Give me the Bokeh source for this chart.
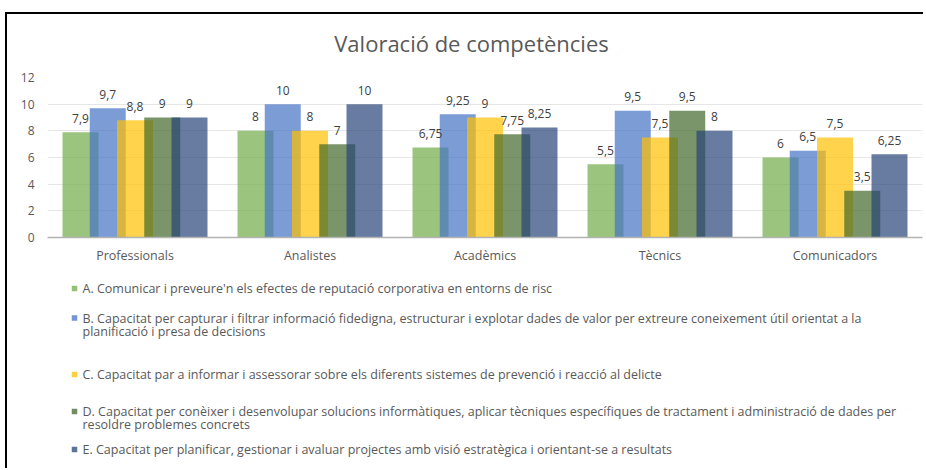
from bokeh.plotting import figure
from bokeh.layouts import column
from bokeh.models import FactorRange, Range1d, ColumnDataSource, FixedTicker
from bokeh.core.properties import value
from bokeh.transform import dodge
from bokeh.embed import file_html
from bokeh.resources import INLINE

# ---- data ----
categories = ["Professionals", "Analistes", "Acadèmics", "Tècnics", "Comunicadors"]
serie_a = [7.9, 8, 6.75, 5.5, 6]
serie_b = [9.7, 10, 9.25, 9.5, 6.5]
serie_c = [8.8, 8, 9, 7.5, 7.5]
serie_d = [9, 7, 7.75, 9.5, 3.5]
serie_e = [9, 10, 8.25, 8, 6.25]
series_names = [
    ["A. Comunicar i preveure'n els efectes de reputació corporativa  en entorns de risc"],
    ["B. Capacitat per capturar i filtrar informació fidedigna, estructurar i explotar dades de valor per extreure coneixement útil orientat a la",
     "planificació i presa de decisions"],
    ["C. Capacitat par a informar i assessorar sobre els diferents sistemes de prevenció i reacció al delicte"],
    ["D. Capacitat per conèixer i desenvolupar solucions informàtiques, aplicar tècniques específiques de tractament i administració de dades per",
     "resoldre problemes concrets"],
    ["E. Capacitat per planificar, gestionar i avaluar projectes amb visió estratègica i orientant-se a resultats"],
]
y_ticks = [0, 2, 4, 6, 8, 10, 12]
title_text = "Valoració de competències"

# ---- layout constants ----
colors = ["#70AD47", "#4472C4", "#FFC000", "#43682B", "#264478"]
OX, OY = 7, 14           # page position of content (after frame lines)
W = 916
H_TITLE, H_CHART = 48, 210
H_LEG = 468 - OY - H_TITLE - H_CHART
FL, FR, FT, FB = 40, 1, 15, 35
GRAY = "#595959"
FONT = "Open Sans"

def band(h):
    # frame aligned with the chart's frame; data x == canvas x, data y == canvas y
    f = figure(width=W, height=h, x_range=Range1d(FL, W - FR), y_range=Range1d(h, 0),
               output_backend="svg", toolbar_location=None, x_axis_type=None,
               y_axis_type=None, min_border_left=FL, min_border_right=FR,
               min_border_top=0, min_border_bottom=0)
    f.outline_line_color = None
    f.grid.visible = False
    f.background_fill_color = "white"
    f.border_fill_color = "white"
    return f

# ---- title band ----
pt = band(H_TITLE)
pt.text(x=[471 - OX], y=[42 - OY], text=[title_text], text_align="center",
        text_baseline="middle", text_font_size="22px", text_color=GRAY,
        text_font=value(FONT))

# ---- chart ----
p = figure(x_range=FactorRange(*categories), y_range=Range1d(0, 12),
           width=W, height=H_CHART, output_backend="svg", toolbar_location=None,
           min_border_left=FL, min_border_right=FR, min_border_top=FT, min_border_bottom=FB)
p.outline_line_color = None

fmt = lambda vals: [f"{v:g}".replace(".", ",") for v in vals]
src = ColumnDataSource(dict(cat=categories, A=serie_a, B=serie_b, C=serie_c, D=serie_d, E=serie_e,
                            lA=fmt(serie_a), lB=fmt(serie_b), lC=fmt(serie_c),
                            lD=fmt(serie_d), lE=fmt(serie_e)))

step = 0.1557
bw = 0.2057
keys = ["A", "B", "C", "D", "E"]
for i, key in enumerate(keys):
    p.vbar(x=dodge("cat", (i - 2) * step, range=p.x_range), top=key, width=bw, source=src,
           fill_color=colors[i], fill_alpha=0.7, line_color=None)
for i, key in enumerate(keys):
    p.text(x=dodge("cat", (i - 2) * step, range=p.x_range), y=key, text="l" + key, source=src,
           text_align="center", text_baseline="middle", y_offset=-14,
           text_font_size="12px", text_color="#404040", text_font=value(FONT))

p.xgrid.grid_line_color = None
p.ygrid.grid_line_color = "#e6e6e6"
p.ygrid.ticker = FixedTicker(ticks=y_ticks)
p.yaxis.ticker = FixedTicker(ticks=y_ticks)
p.yaxis.axis_line_color = None
p.yaxis.major_tick_line_color = None
p.yaxis.minor_tick_line_color = None
p.yaxis.major_tick_out = 0
p.yaxis.major_tick_in = 0
p.yaxis.major_label_standoff = 13
p.yaxis.major_label_text_font_size = "12px"
p.yaxis.major_label_text_color = GRAY
p.yaxis.major_label_text_font = FONT
p.xaxis.axis_line_color = "#b3b3b3"
p.xaxis.axis_line_width = 1.5
p.xaxis.major_tick_line_color = None
p.xaxis.minor_tick_line_color = None
p.xaxis.major_tick_out = 0
p.xaxis.major_tick_in = 0
p.xaxis.major_label_standoff = 9
p.xaxis.major_label_text_font_size = "12.5px"
p.xaxis.major_label_text_color = GRAY
p.xaxis.major_label_text_font = FONT

# ---- legend band ----
top_leg = OY + H_TITLE + H_CHART
pl = band(H_LEG)
row_y = [[288], [317.5, 330.5], [374], [411, 424], [449]]
mx, my, tx, ty, tt = [], [], [], [], []
for i, lines in enumerate(series_names):
    mx.append(74 - OX)
    my.append(row_y[i][0] - top_leg)
    for j, line in enumerate(lines):
        tx.append(82 - OX)
        ty.append(row_y[i][j] - top_leg)
        tt.append(line)
pl.rect(x=mx, y=my, width=5.5, height=5.5, fill_color=colors, fill_alpha=0.75, line_color=None)
pl.text(x=tx, y=ty, text=tt, text_align="left", text_baseline="middle",
        text_font_size="12.5px", text_color=GRAY, text_font=value(FONT))

layout = column(pt, p, pl, spacing=0,
                styles={"margin-left": "5px", "margin-top": "12px",
                        "border-left": "2px solid #000", "border-top": "2px solid #000",
                        "border-right": "0px none", "border-bottom": "0px none",
                        "box-shadow": "none", "outline": "none"})

open("out.html", "w").write(file_html(layout, INLINE))
